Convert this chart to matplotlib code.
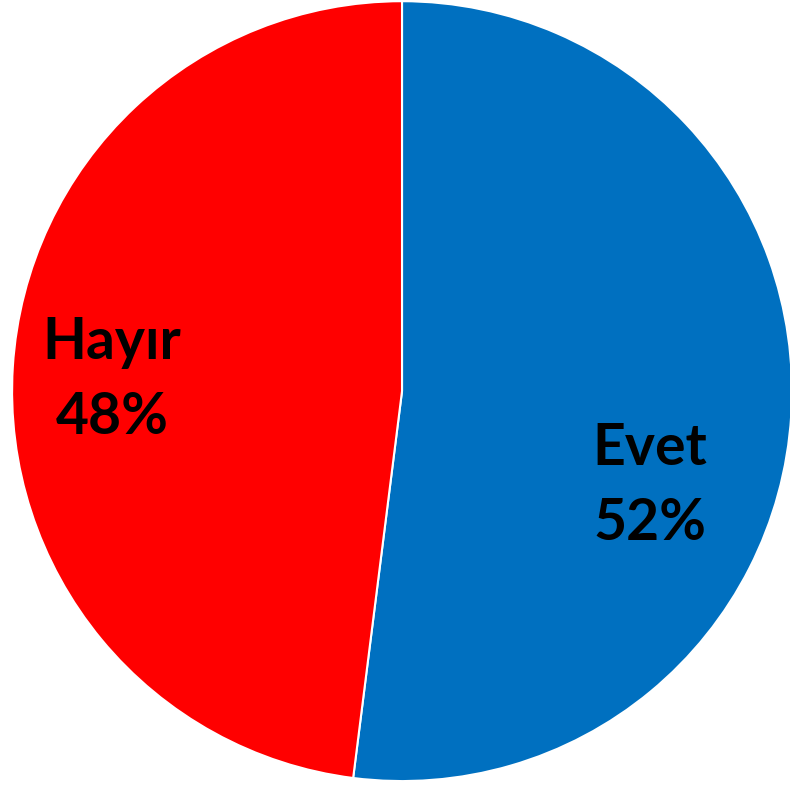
import matplotlib.pyplot as plt

labels = ['Evet', 'Hayır']
values = [52, 48]
colors = ['#0070C0', '#FF0000']

fig = plt.figure(figsize=(7.9, 7.85), dpi=100)
ax = fig.add_axes([0, 0, 1, 1])

wedges, _ = ax.pie(values, colors=colors, startangle=90, counterclock=False,
                   radius=1.0, wedgeprops=dict(edgecolor='white', linewidth=1.5))

# label spots (Excel best-fit placement)
label_pos = [(0.636, -0.243), (-0.744, 0.028)]
for lab, v, (x, y) in zip(labels, values, label_pos):
    ax.text(x, y, f'{lab}\n{v}%', ha='center', va='center', fontsize=41,
            fontweight='bold', family=['Lato', 'DejaVu Sans'], linespacing=1.5,
            color='black')

ax.set_xlim(-1.031, 0.995)
ax.set_ylim(-1.010, 1.003)
ax.set_aspect('equal')
ax.axis('off')

fig.savefig('out.png', dpi=100)
